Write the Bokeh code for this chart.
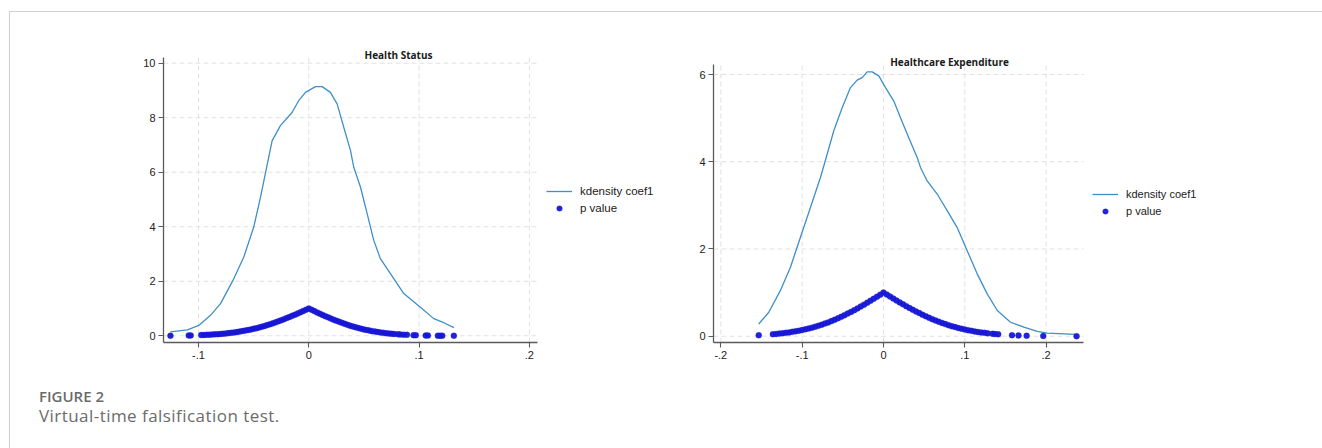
from bokeh.plotting import figure
from bokeh.models import Range1d, FixedTicker, Legend, LegendItem, Label, Div
from bokeh.layouts import row, column
from bokeh.embed import file_html
from bokeh.resources import INLINE

# ---------------- data: Health Status ----------------
hs_title = "Health Status"
hs_kde_x = [-0.1254, -0.110, -0.0997, -0.0891, -0.080, -0.068, -0.0589, -0.0499, -0.0438, -0.0377,
            -0.0332, -0.0257, -0.015, -0.0091, -0.003, 0.0061, 0.0121, 0.0196, 0.0257, 0.0317,
            0.0378, 0.0408, 0.0469, 0.0529, 0.0589, 0.0649, 0.0740, 0.0861, 0.1012, 0.1133,
            0.1224, 0.1315]
hs_kde_y = [0.14, 0.22, 0.38, 0.75, 1.18, 2.09, 2.89, 3.99, 5.08, 6.28,
            7.16, 7.71, 8.20, 8.63, 8.93, 9.14, 9.14, 8.93, 8.51, 7.65,
            6.80, 6.18, 5.45, 4.48, 3.50, 2.83, 2.28, 1.55, 1.05, 0.63,
            0.48, 0.30]
hs_p_x = [-0.1254, -0.1088, -0.1070, -0.0975, -0.0950, -0.0925,
          -0.0900, -0.0875, -0.0850, -0.0825, -0.0800, -0.0775, -0.0750, -0.0725, -0.0700, -0.0675,
          -0.0650, -0.0625, -0.0600, -0.0575, -0.0550, -0.0525, -0.0500, -0.0475, -0.0450, -0.0425,
          -0.0400, -0.0375, -0.0350, -0.0325, -0.0300, -0.0275, -0.0250, -0.0225, -0.0200, -0.0175,
          -0.0150, -0.0125, -0.0100, -0.0075, -0.0050, -0.0025, 0.0000,
          0.0025, 0.0050, 0.0075, 0.0100, 0.0125, 0.0150, 0.0175, 0.0200, 0.0225, 0.0250,
          0.0275, 0.0300, 0.0325, 0.0350, 0.0375, 0.0400, 0.0425, 0.0450, 0.0475, 0.0500,
          0.0525, 0.0550, 0.0575, 0.0600, 0.0625, 0.0650, 0.0675, 0.0700,
          0.0725, 0.0750, 0.0775, 0.0810, 0.0830, 0.0860, 0.0890, 0.0950, 0.0970, 0.1060,
          0.1080, 0.1170, 0.1190, 0.1210, 0.1315]
hs_p_y = [0.004, 0.013, 0.015, 0.027, 0.031, 0.036,
          0.041, 0.047, 0.053, 0.061, 0.069, 0.078, 0.088, 0.099, 0.112, 0.125,
          0.140, 0.156, 0.173, 0.191, 0.211, 0.233, 0.256, 0.280, 0.306, 0.334,
          0.363, 0.394, 0.427, 0.460, 0.495, 0.532, 0.570, 0.609, 0.649, 0.691,
          0.733, 0.776, 0.820, 0.865, 0.909, 0.955, 1.000,
          0.953, 0.905, 0.858, 0.812, 0.766, 0.721, 0.677, 0.634, 0.592, 0.552,
          0.513, 0.475, 0.439, 0.405, 0.372, 0.341, 0.312, 0.284, 0.258, 0.234,
          0.211, 0.190, 0.171, 0.153, 0.137, 0.122, 0.108, 0.096,
          0.084, 0.074, 0.065, 0.054, 0.048, 0.040, 0.034, 0.024, 0.021, 0.012,
          0.010, 0.005, 0.005, 0.004, 0.002]
hs_xticks = [-0.1, 0.0, 0.1, 0.2]
hs_xtick_labels = ["-.1", "0", ".1", ".2"]
hs_yticks = [0, 2, 4, 6, 8, 10]

# ---------------- data: Healthcare Expenditure ----------------
he_title = "Healthcare Expenditure"
he_kde_x = [-0.1534, -0.141, -0.1267, -0.1144, -0.1021, -0.0898, -0.0775, -0.0713, -0.0611, -0.0508,
            -0.0406, -0.0324, -0.0262, -0.0201, -0.0139, -0.0058, 0.0025, 0.0127, 0.0209, 0.0311,
            0.0414, 0.0455, 0.0537, 0.066, 0.0783, 0.0906, 0.1029, 0.1152, 0.1275, 0.1399,
            0.1562, 0.1726, 0.189, 0.2013, 0.2362]
he_kde_y = [0.28, 0.55, 1.05, 1.58, 2.27, 2.95, 3.64, 4.04, 4.71, 5.24,
            5.70, 5.87, 5.93, 6.06, 6.06, 5.97, 5.70, 5.39, 5.01, 4.55,
            4.10, 3.87, 3.56, 3.26, 2.88, 2.49, 1.96, 1.43, 0.97, 0.59,
            0.32, 0.21, 0.11, 0.07, 0.04]
he_p_x = [-0.1534,
          -0.136, -0.132, -0.128, -0.124, -0.120, -0.116, -0.112, -0.108, -0.104, -0.100,
          -0.096, -0.092, -0.088, -0.084, -0.080, -0.076, -0.072, -0.068, -0.064, -0.060,
          -0.056, -0.052, -0.048, -0.044, -0.040, -0.036, -0.032, -0.028, -0.024, -0.020,
          -0.016, -0.012, -0.008, -0.004, 0.000,
          0.004, 0.008, 0.012, 0.016, 0.020, 0.024, 0.028, 0.032, 0.036, 0.040,
          0.044, 0.048, 0.052, 0.056, 0.060, 0.064, 0.068, 0.072, 0.076, 0.080,
          0.084, 0.088, 0.092, 0.096, 0.100, 0.104, 0.108, 0.112, 0.116, 0.120,
          0.124, 0.128,
          0.134, 0.137, 0.141, 0.158, 0.166, 0.176, 0.1964, 0.2374]
he_p_y = [0.024,
          0.046, 0.052, 0.060, 0.068, 0.078, 0.088, 0.100, 0.112, 0.126, 0.141,
          0.158, 0.176, 0.196, 0.217, 0.239, 0.264, 0.290, 0.317, 0.347, 0.378,
          0.410, 0.444, 0.480, 0.518, 0.556, 0.597, 0.638, 0.680, 0.724, 0.769,
          0.814, 0.860, 0.906, 0.953, 1.000,
          0.954, 0.909, 0.864, 0.819, 0.775, 0.732, 0.689, 0.648, 0.607, 0.568,
          0.530, 0.493, 0.458, 0.424, 0.391, 0.361, 0.331, 0.304, 0.278, 0.253,
          0.230, 0.209, 0.189, 0.170, 0.153, 0.137, 0.123, 0.110, 0.097, 0.086,
          0.077, 0.067,
          0.056, 0.050, 0.044, 0.024, 0.018, 0.012, 0.005, 0.001]
he_xticks = [-0.2, -0.1, 0.0, 0.1, 0.2]
he_xtick_labels = ["-.2", "-.1", "0", ".1", ".2"]
he_yticks = [0, 2, 4, 6]

legend_labels = ["kdensity coef1", "p value"]
caption_head = "FIGURE 2"
caption_text = "Virtual-time falsification test."

LINE_COLOR = "#3f8fc8"
DOT_COLOR = "#1616d4"
AXIS_COLOR = "#5a5a5a"
GRID_COLOR = "#e2e2e2"
TICK_FONT = "Liberation Sans"


def make_panel(title, kx, ky, px, py, xticks, xlabels, yticks,
               xr, yr, x_axis_end, y_axis_top,
               width, height, mb_left, mb_top, mb_bottom,
               title_xy, legend_loc, legend_font_size):
    p = figure(width=width, height=height, x_range=Range1d(*xr), y_range=Range1d(*yr),
               output_backend="svg", toolbar_location=None,
               min_border_left=mb_left, min_border_right=0,
               min_border_top=mb_top, min_border_bottom=mb_bottom)
    p.outline_line_color = None
    p.background_fill_color = "white"
    p.border_fill_color = "white"
    p.xgrid.visible = False
    p.ygrid.visible = False

    # dashed grid limited to the plot region
    p.segment(x0=xticks, y0=[yr[0]] * len(xticks), x1=xticks, y1=[y_axis_top] * len(xticks),
              line_color=GRID_COLOR, line_dash="5 3", line_width=1)
    p.segment(x0=[xr[0]] * len(yticks), y0=yticks, x1=[x_axis_end] * len(yticks), y1=yticks,
              line_color=GRID_COLOR, line_dash="5 3", line_width=1)

    kde = p.line(kx, ky, line_color=LINE_COLOR, line_width=1.3)
    pts = p.scatter(px, py, size=6, fill_color=DOT_COLOR, fill_alpha=0.95,
                    line_color=DOT_COLOR, line_alpha=0.5, line_width=0.5)

    for ax in (p.xaxis[0], p.yaxis[0]):
        ax.axis_line_color = AXIS_COLOR
        ax.axis_line_width = 1.3
        ax.major_tick_line_color = AXIS_COLOR
        ax.major_tick_line_width = 1.1
        ax.major_tick_in = 0
        ax.major_tick_out = 5
        ax.minor_tick_line_color = None
        ax.major_label_text_font = TICK_FONT
        ax.major_label_text_font_size = "11px"
        ax.major_label_text_color = "#222222"
        ax.major_label_standoff = 3

    p.xaxis.ticker = FixedTicker(ticks=xticks)
    p.xaxis.major_label_overrides = {t: lab for t, lab in zip(xticks, xlabels)}
    p.xaxis.bounds = (xr[0], x_axis_end)
    p.yaxis.ticker = FixedTicker(ticks=yticks)
    p.yaxis.bounds = (yr[0], y_axis_top)
    p.yaxis.major_label_orientation = "horizontal"

    p.add_layout(Label(x=title_xy[0], y=title_xy[1], text=title, text_align="center",
                       text_baseline="middle", text_font="Open Sans", text_font_style="bold",
                       text_font_size="10px", text_color="#1a1a1a"))

    legend = Legend(items=[LegendItem(label=legend_labels[0], renderers=[kde]),
                           LegendItem(label=legend_labels[1], renderers=[pts])],
                    location=legend_loc, orientation="vertical",
                    border_line_color=None, background_fill_alpha=0,
                    padding=9, margin=0, glyph_width=26, glyph_height=14,
                    label_height=14, spacing=3, label_standoff=8,
                    label_text_font=TICK_FONT, label_text_font_size=legend_font_size,
                    label_text_color="#1a1a1a")
    p.add_layout(legend)
    return p


p1 = make_panel(hs_title, hs_kde_x, hs_kde_y, hs_p_x, hs_p_y, hs_xticks, hs_xtick_labels, hs_yticks,
                xr=(-0.1317, 0.3279), yr=(-0.246, 10.686), x_axis_end=0.2071, y_axis_top=10.22,
                width=660, height=360, mb_left=153, mb_top=32, mb_bottom=30,
                title_xy=(0.0813, 10.319), legend_loc=(383, 127), legend_font_size="11.5px")
p2 = make_panel(he_title, he_kde_x, he_kde_y, he_p_x, he_p_y, he_xticks, he_xtick_labels, he_yticks,
                xr=(-0.2090, 0.5373), yr=(-0.144, 6.688), x_axis_end=0.2463, y_axis_top=6.238,
                width=650, height=360, mb_left=43, mb_top=32, mb_bottom=30,
                title_xy=(0.0812, 6.298), legend_loc=(379, 124), legend_font_size="11px")

cap = Div(text=(
    '<div style="font-family:\'Open Sans\';color:#6b6b6b;padding-left:24px;padding-top:9px;">'
    f'<div style="font-weight:600;font-size:15px;line-height:20px;">{caption_head}</div>'
    f'<div style="font-size:17px;line-height:20px;letter-spacing:0.45px;">{caption_text}</div></div>'),
    width=1310, height=74)

layout = column(row(p1, p2), cap,
                styles={"border-top": "1px solid #cfcfcf", "border-left": "1px solid #cfcfcf",
                        "margin-top": "11px", "margin-left": "9px"})

open("out.html", "w").write(file_html(layout, INLINE))
